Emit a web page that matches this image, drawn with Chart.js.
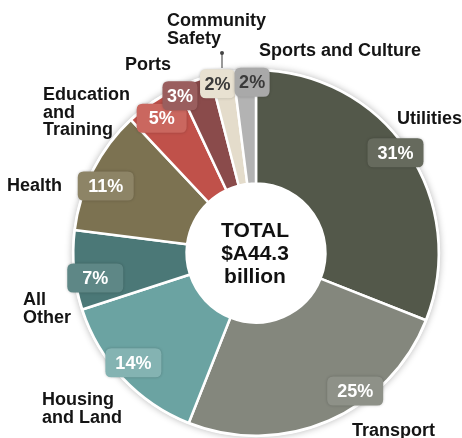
<!DOCTYPE html>
<html>
<head>
<meta charset="utf-8">
<script src="https://cdn.jsdelivr.net/npm/chart.js@4"></script>
<style>
  html, body { margin: 0; padding: 0; background: #ffffff; }
  #wrap { width: 462px; height: 438px; position: relative; }
</style>
</head>
<body>
<div id="wrap"><canvas id="c" width="462" height="438"></canvas></div>
<script>
// ---- data ----
const categories = ['Utilities', 'Transport', 'Housing and Land', 'All Other', 'Health',
  'Education and Training', 'Ports', 'Community Safety', 'Sports and Culture'];
const shares = [31, 25, 14, 7, 11, 5, 3, 2, 2];
const labelLines = [['Utilities'], ['Transport'], ['Housing', 'and Land'], ['All', 'Other'], ['Health'],
  ['Education', 'and', 'Training'], ['Ports'], ['Community', 'Safety'], ['Sports and Culture']];
const centerLines = ['TOTAL', '$A44.3', 'billion'];

// ---- styles ----
const sliceColors = ['#53584a', '#84877d', '#6ba3a2', '#4b7877', '#7c7251', '#c0514a', '#8a4b4b', '#e4dccb', '#b3b3b3'];
const badgeColors = ['#666a5d', '#8e9188', '#84b3b2', '#5e8786', '#8d8466', '#ca675f', '#9a5e5e', '#e8e1d1', '#a9a9a9'];
const badgeText = ['#ffffff', '#ffffff', '#ffffff', '#ffffff', '#ffffff', '#ffffff', '#ffffff', '#3a3a3a', '#3a3a3a'];
const FONT = '"Liberation Sans", Arial, Helvetica, sans-serif';

// layout of outer labels: offsets from chart centre (left x, first baseline)
const labelOffsets = [[141, -129], [96, 183], [-214, 152], [-233, 52], [-249, -62],
  [-213, -153], [-131, -183], [-89, -227], [3, -197]];
const badgeRadius = [0.94, 0.93, 0.90, 0.89, 0.90, 0.90, 0.956, 0.95, 0.934];
const badgeShift = [-1.5, -12.3, 1.4, -3.4, -3, -0.8, -6, -2, 2.3];

function roundRect(ctx, x, y, w, h, r) {
  ctx.beginPath();
  ctx.moveTo(x + r, y);
  ctx.lineTo(x + w - r, y);
  ctx.quadraticCurveTo(x + w, y, x + w, y + r);
  ctx.lineTo(x + w, y + h - r);
  ctx.quadraticCurveTo(x + w, y + h, x + w - r, y + h);
  ctx.lineTo(x + r, y + h);
  ctx.quadraticCurveTo(x, y + h, x, y + h - r);
  ctx.lineTo(x, y + r);
  ctx.quadraticCurveTo(x, y, x + r, y);
  ctx.closePath();
}

const halo = {
  id: 'halo',
  beforeDatasetsDraw(chart) {
    const arc = chart.getDatasetMeta(0).data[0];
    if (!arc) return;
    const ctx = chart.ctx;
    ctx.save();
    ctx.shadowColor = 'rgba(0,0,0,0.28)';
    ctx.shadowBlur = 7;
    ctx.fillStyle = '#ffffff';
    ctx.beginPath();
    ctx.arc(arc.x, arc.y, arc.outerRadius + 1.5, 0, Math.PI * 2);
    ctx.fill();
    ctx.restore();
  }
};

const decorations = {
  id: 'decorations',
  afterDatasetsDraw(chart) {
    const ctx = chart.ctx;
    const meta = chart.getDatasetMeta(0);
    const first = meta.data[0];
    const cx = first.x, cy = first.y, R = first.outerRadius;

    // centre text
    ctx.save();
    ctx.fillStyle = '#111111';
    ctx.font = 'bold 21px ' + FONT;
    ctx.textAlign = 'center';
    ctx.textBaseline = 'alphabetic';
    centerLines.forEach((t, i) => ctx.fillText(t, cx - 1, cy - 16 + i * 23));
    ctx.restore();

    // outer labels
    ctx.save();
    ctx.fillStyle = '#141414';
    ctx.font = 'bold 18px ' + FONT;
    ctx.textAlign = 'left';
    ctx.textBaseline = 'alphabetic';
    labelLines.forEach((lines, i) => {
      const [ox, oy] = labelOffsets[i];
      lines.forEach((t, j) => ctx.fillText(t, cx + ox, cy + oy + j * 17.5));
    });
    // leader line for Community Safety
    ctx.strokeStyle = '#555555';
    ctx.fillStyle = '#444444';
    ctx.lineWidth = 1.2;
    ctx.beginPath();
    ctx.moveTo(cx - 34, cy - 200);
    ctx.lineTo(cx - 34, cy - 185);
    ctx.stroke();
    ctx.beginPath();
    ctx.arc(cx - 34, cy - 200, 2, 0, Math.PI * 2);
    ctx.fill();
    ctx.restore();

    // badges
    ctx.save();
    ctx.font = 'bold 18px ' + FONT;
    meta.data.forEach((el, i) => {
      const v = shares[i];
      const mid = (el.startAngle + el.endAngle) / 2 + badgeShift[i] * Math.PI / 180;
      const r = R * badgeRadius[i];
      const bx = cx + Math.cos(mid) * r;
      const by = cy + Math.sin(mid) * r;
      const txt = v + '%';
      const tw = ctx.measureText(txt).width;
      const w = v >= 7 ? 56 : (v >= 5 ? tw + 24 : tw + 9);
      const h = 29;
      ctx.save();
      ctx.shadowColor = 'rgba(0,0,0,0.22)';
      ctx.shadowBlur = 3;
      ctx.fillStyle = badgeColors[i];
      roundRect(ctx, bx - w / 2, by - h / 2, w, h, 6);
      ctx.fill();
      ctx.restore();
      ctx.fillStyle = badgeText[i];
      ctx.textAlign = 'center';
      ctx.textBaseline = 'middle';
      ctx.fillText(txt, bx, by + 1);
    });
    ctx.restore();
  }
};

new Chart(document.getElementById('c'), {
  type: 'doughnut',
  data: {
    labels: categories,
    datasets: [{
      data: shares,
      backgroundColor: sliceColors,
      borderColor: '#ffffff',
      borderWidth: 2.5,
      hoverOffset: 0
    }]
  },
  options: {
    responsive: false,
    animation: false,
    cutout: '38%',
    layout: { padding: { left: 72, right: 22, top: 69, bottom: 1 } },
    plugins: {
      legend: { display: false },
      tooltip: { enabled: false }
    }
  },
  plugins: [halo, decorations]
});
</script>
</body>
</html>
